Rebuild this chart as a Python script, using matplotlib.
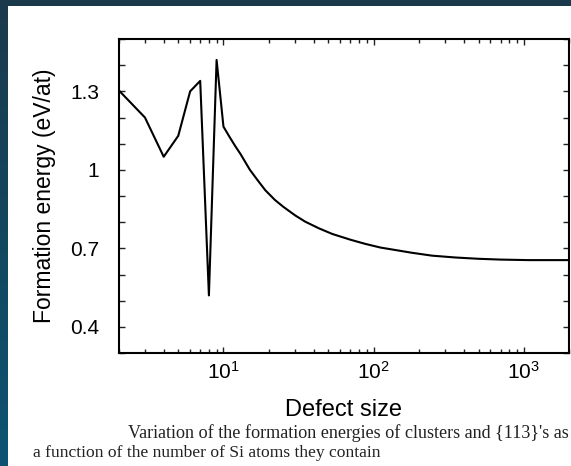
import numpy as np
import matplotlib
matplotlib.use("Agg")
import matplotlib.pyplot as plt
from matplotlib.ticker import FixedLocator, LogLocator, NullFormatter

# defect size (number of atoms) and formation energy (eV/at)
size = [2, 3, 4, 5, 6, 7, 8, 9, 10, 11, 12, 13, 15, 17, 19, 22, 25, 30, 35, 43, 53,
        70, 88, 111, 138, 180, 245, 350, 500, 700, 1070, 1500, 2000]
energy = [1.305, 1.20, 1.05, 1.13, 1.30, 1.34, 0.52, 1.42, 1.165, 1.125, 1.09, 1.06,
          1.00, 0.958, 0.922, 0.885, 0.859, 0.826, 0.802, 0.777, 0.755,
          0.733, 0.717, 0.703, 0.694, 0.683, 0.672, 0.665, 0.66, 0.657, 0.655, 0.655, 0.655]

ytick_vals = [0.4, 0.7, 1.0, 1.3]
ytick_labels = ["0.4", "0.7", "1", "1.3"]
xtick_vals = [10, 100, 1000]
xtick_labels = [r"$\mathregular{10^1}$", r"$\mathregular{10^2}$", r"$\mathregular{10^3}$"]

W, H = 571, 466
fig = plt.figure(figsize=(W / 100, H / 100), dpi=100)
fig.patch.set_facecolor("white")

# dark frame on top and left
band = fig.add_axes([0, 0, 8 / W, 1])
grad = np.linspace(0, 1, 256).reshape(-1, 1)
band.imshow(grad, aspect="auto", cmap=matplotlib.colors.LinearSegmentedColormap.from_list(
    "b", ["#1a3a4c", "#0d5472"]), extent=[0, 1, 1, 0])
band.axis("off")
top = fig.add_axes([0, 1 - 6 / H, 1, 6 / H])
top.set_facecolor("#1a3a4c")
top.set_xticks([]); top.set_yticks([])
for s in top.spines.values():
    s.set_visible(False)

ax = fig.add_axes([118.5 / W, 1 - 353 / H, (569 - 118.5) / W, (353 - 39) / H])
ax.plot(size, energy, color="black", lw=1.5)
ax.set_xscale("log")
ax.set_xlim(2, 2000)
ax.set_ylim(0.3, 1.5)

font = "Liberation Sans"
ax.yaxis.set_major_locator(FixedLocator(ytick_vals))
ax.set_yticklabels(ytick_labels, fontsize=15, family=font)
ax.yaxis.set_minor_locator(FixedLocator([0.3, 0.5, 0.6, 0.8, 0.9, 1.1, 1.2, 1.4, 1.5]))
ax.xaxis.set_major_locator(FixedLocator(xtick_vals))
ax.set_xticklabels(xtick_labels, fontsize=15, family=font)
ax.xaxis.set_minor_locator(LogLocator(base=10, subs=np.arange(2, 10), numticks=20))
ax.xaxis.set_minor_formatter(NullFormatter())
ax.tick_params(which="both", direction="in", top=True, right=True, width=1, color="#222222")
ax.tick_params(which="major", length=4)
ax.tick_params(axis="x", which="major", pad=6)
ax.tick_params(axis="y", which="major", pad=14)
ax.tick_params(which="minor", length=3)
ax.tick_params(axis="y", which="minor", length=4)
for s in ax.spines.values():
    s.set_linewidth(1.5)

ax.set_xlabel("Defect size", fontsize=17, family=font, labelpad=11)
ax.set_ylabel("Formation energy (eV/at)", fontsize=16.5, family=font, labelpad=10)

fig.text(128 / W, 1 - 433 / H, "Variation of the formation energies of clusters and {113}'s as",
         fontsize=13.05, family="Liberation Serif", va="center", ha="left", color="#222222")
fig.text(33 / W, 1 - 453 / H, "a function of the number of Si atoms they contain",
         fontsize=12.6, family="Liberation Serif", va="center", ha="left", color="#222222")

fig.savefig("out.png", dpi=100)
